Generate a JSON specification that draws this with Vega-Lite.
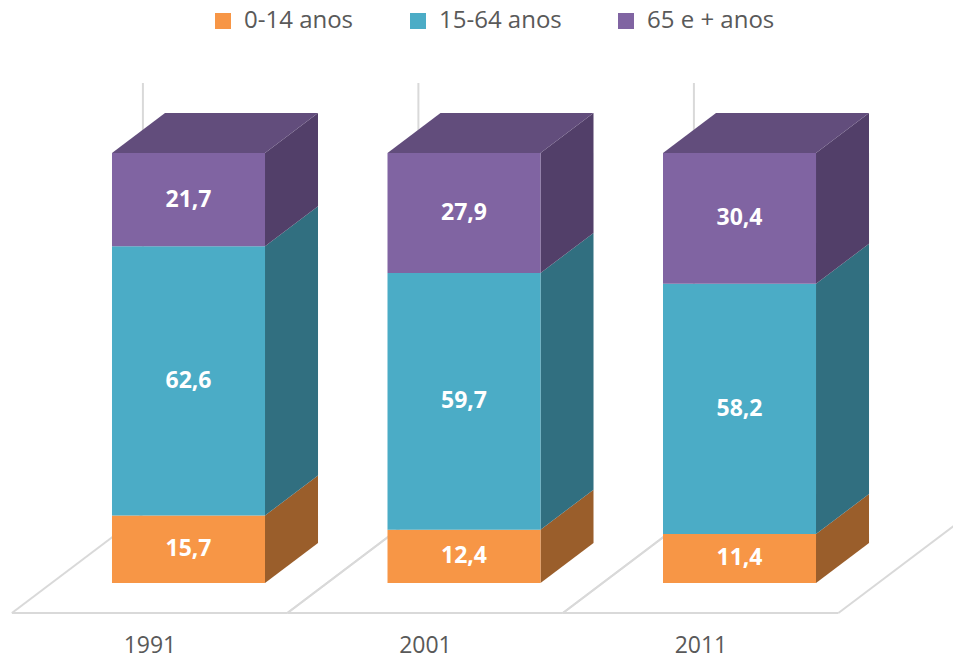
{
  "$schema": "https://vega.github.io/schema/vega-lite/v6.json",
  "width": 953,
  "height": 662,
  "padding": 0,
  "autosize": "none",
  "background": "white",
  "config": {"view": {"stroke": null}, "font": "Open Sans"},
  "datasets": {
    "pop": [
      {"year": 1991, "group": "0-14 anos", "value": 15.7},
      {"year": 1991, "group": "15-64 anos", "value": 62.6},
      {"year": 1991, "group": "65 e + anos", "value": 21.7},
      {"year": 2001, "group": "0-14 anos", "value": 12.4},
      {"year": 2001, "group": "15-64 anos", "value": 59.7},
      {"year": 2001, "group": "65 e + anos", "value": 27.9},
      {"year": 2011, "group": "0-14 anos", "value": 11.4},
      {"year": 2011, "group": "15-64 anos", "value": 58.2},
      {"year": 2011, "group": "65 e + anos", "value": 30.4}
    ]
  },
  "data": {"name": "pop"},
  "transform": [
    {"stack": "value", "groupby": ["year"], "sort": [{"field": "group", "order": "ascending"}], "as": ["v0", "v1"]}
  ],
  "layer": [
    {
      "transform": [
        {"filter": "datum.group == '0-14 anos'"},
        {"calculate": "[datum.year - 6.41, datum.year + 3.59]", "as": "bx"},
        {"flatten": ["bx"]},
        {"calculate": "datum.bx + 4.755", "as": "bx2"}
      ],
      "mark": {"type": "rule", "color": "#D9D9D9", "strokeWidth": 2},
      "encoding": {
        "x": {"field": "bx", "type": "quantitative", "scale": {"domain": [1984.158, 2018.749], "nice": false, "zero": false}, "axis": null},
        "x2": {"field": "bx2"},
        "y": {"datum": -6.977, "type": "quantitative", "scale": {"domain": [-18.37, 135.58], "nice": false, "zero": false}, "axis": null},
        "y2": {"datum": 16.05}
      }
    },
    {
      "transform": [
        {"filter": "datum.group == '0-14 anos'"},
        {"calculate": "datum.year - 6.41", "as": "fx"},
        {"calculate": "datum.year + 3.59", "as": "fx2"}
      ],
      "mark": {"type": "rule", "color": "#D9D9D9", "strokeWidth": 2},
      "encoding": {
        "x": {"field": "fx", "type": "quantitative", "scale": {"domain": [1984.158, 2018.749], "nice": false, "zero": false}, "axis": null},
        "x2": {"field": "fx2"},
        "y": {"datum": -6.977, "type": "quantitative", "scale": {"domain": [-18.37, 135.58], "nice": false, "zero": false}, "axis": null}
      }
    },
    {
      "transform": [
        {"filter": "datum.group == '0-14 anos'"},
        {"calculate": "datum.year - 1.655", "as": "vx"}
      ],
      "mark": {"type": "rule", "color": "#D9D9D9", "strokeWidth": 2},
      "encoding": {
        "x": {"field": "vx", "type": "quantitative", "scale": {"domain": [1984.158, 2018.749], "nice": false, "zero": false}, "axis": null},
        "y": {"datum": 16.05, "type": "quantitative", "scale": {"domain": [-18.37, 135.58], "nice": false, "zero": false}, "axis": null},
        "y2": {"datum": 116.28}
      }
    },
    {
      "transform": [
        {"calculate": "[0, 1]", "as": "k"},
        {"flatten": ["k"]},
        {"calculate": "datum.year + 2.777 + datum.k * 1.924", "as": "sx"},
        {"calculate": "datum.v1 + datum.k * 9.3", "as": "sy"},
        {"calculate": "datum.v0 + datum.k * 9.3", "as": "sy2"}
      ],
      "mark": {"type": "area", "orient": "vertical", "opacity": 1},
      "encoding": {
        "x": {"field": "sx", "type": "quantitative", "scale": {"domain": [1984.158, 2018.749], "nice": false, "zero": false}, "axis": null},
        "y": {"field": "sy", "type": "quantitative", "scale": {"domain": [-18.37, 135.58], "nice": false, "zero": false}, "axis": null},
        "y2": {"field": "sy2"},
        "detail": [{"field": "year", "type": "nominal"}, {"field": "group", "type": "nominal"}],
        "fill": {
          "condition": [
            {"test": "datum.group == '0-14 anos'", "value": "#9A5E2B"},
            {"test": "datum.group == '15-64 anos'", "value": "#316F80"}
          ],
          "value": "#523F69"
        }
      }
    },
    {
      "transform": [
        {"filter": "datum.group == '65 e + anos'"},
        {"calculate": "[0, 1]", "as": "k"},
        {"flatten": ["k"]},
        {"calculate": "datum.year - 2.777 + datum.k * 1.924", "as": "tx"},
        {"calculate": "datum.year + 2.777 + datum.k * 1.924", "as": "tx2"},
        {"calculate": "datum.v1 + datum.k * 9.3", "as": "ty"}
      ],
      "mark": {"type": "area", "orient": "horizontal", "color": "#624D7C", "opacity": 1},
      "encoding": {
        "y": {"field": "ty", "type": "quantitative", "scale": {"domain": [-18.37, 135.58], "nice": false, "zero": false}, "axis": null},
        "x": {"field": "tx", "type": "quantitative", "scale": {"domain": [1984.158, 2018.749], "nice": false, "zero": false}, "axis": null},
        "x2": {"field": "tx2"},
        "detail": {"field": "year", "type": "nominal"}
      }
    },
    {
      "transform": [
        {"calculate": "datum.year - 2.777", "as": "fl"},
        {"calculate": "datum.year + 2.777", "as": "fr"}
      ],
      "mark": {"type": "rect", "opacity": 1},
      "encoding": {
        "x": {"field": "fl", "type": "quantitative", "scale": {"domain": [1984.158, 2018.749], "nice": false, "zero": false}, "axis": null},
        "x2": {"field": "fr"},
        "y": {"field": "v0", "type": "quantitative", "scale": {"domain": [-18.37, 135.58], "nice": false, "zero": false}, "axis": null},
        "y2": {"field": "v1"},
        "color": {
          "field": "group",
          "type": "nominal",
          "scale": {"domain": ["0-14 anos", "15-64 anos", "65 e + anos"], "range": ["#F79646", "#4BACC6", "#8064A2"]},
          "legend": {
            "orient": "none",
            "legendX": 211,
            "legendY": 9,
            "direction": "horizontal",
            "title": null,
            "symbolType": "square",
            "symbolSize": 256,
            "symbolStrokeWidth": 0,
            "symbolOpacity": 1,
            "labelFontSize": 24,
            "labelColor": "#595959",
            "labelFont": "Open Sans",
            "labelOffset": 9,
            "columnPadding": 52
          }
        }
      }
    },
    {
      "transform": [
        {"calculate": "(datum.v0 + datum.v1) / 2", "as": "mid"},
        {"calculate": "replace(format(datum.value, '.1f'), '.', ',')", "as": "lbl"}
      ],
      "mark": {"type": "text", "color": "white", "fontWeight": "bold", "fontSize": 23, "font": "Open Sans", "baseline": "middle", "align": "center"},
      "encoding": {
        "x": {"field": "year", "type": "quantitative", "scale": {"domain": [1984.158, 2018.749], "nice": false, "zero": false}, "axis": null},
        "y": {"field": "mid", "type": "quantitative", "scale": {"domain": [-18.37, 135.58], "nice": false, "zero": false}, "axis": null},
        "text": {"field": "lbl"}
      }
    },
    {
      "transform": [
        {"filter": "datum.group == '0-14 anos'"},
        {"calculate": "datum.year - 1.4", "as": "lx"},
        {"calculate": "'' + datum.year", "as": "ylbl"}
      ],
      "mark": {"type": "text", "color": "#595959", "fontSize": 23, "font": "Open Sans", "baseline": "middle", "align": "center"},
      "encoding": {
        "x": {"field": "lx", "type": "quantitative", "scale": {"domain": [1984.158, 2018.749], "nice": false, "zero": false}, "axis": null},
        "y": {"datum": -14.7, "type": "quantitative", "scale": {"domain": [-18.37, 135.58], "nice": false, "zero": false}, "axis": null},
        "text": {"field": "ylbl"}
      }
    }
  ]
}
